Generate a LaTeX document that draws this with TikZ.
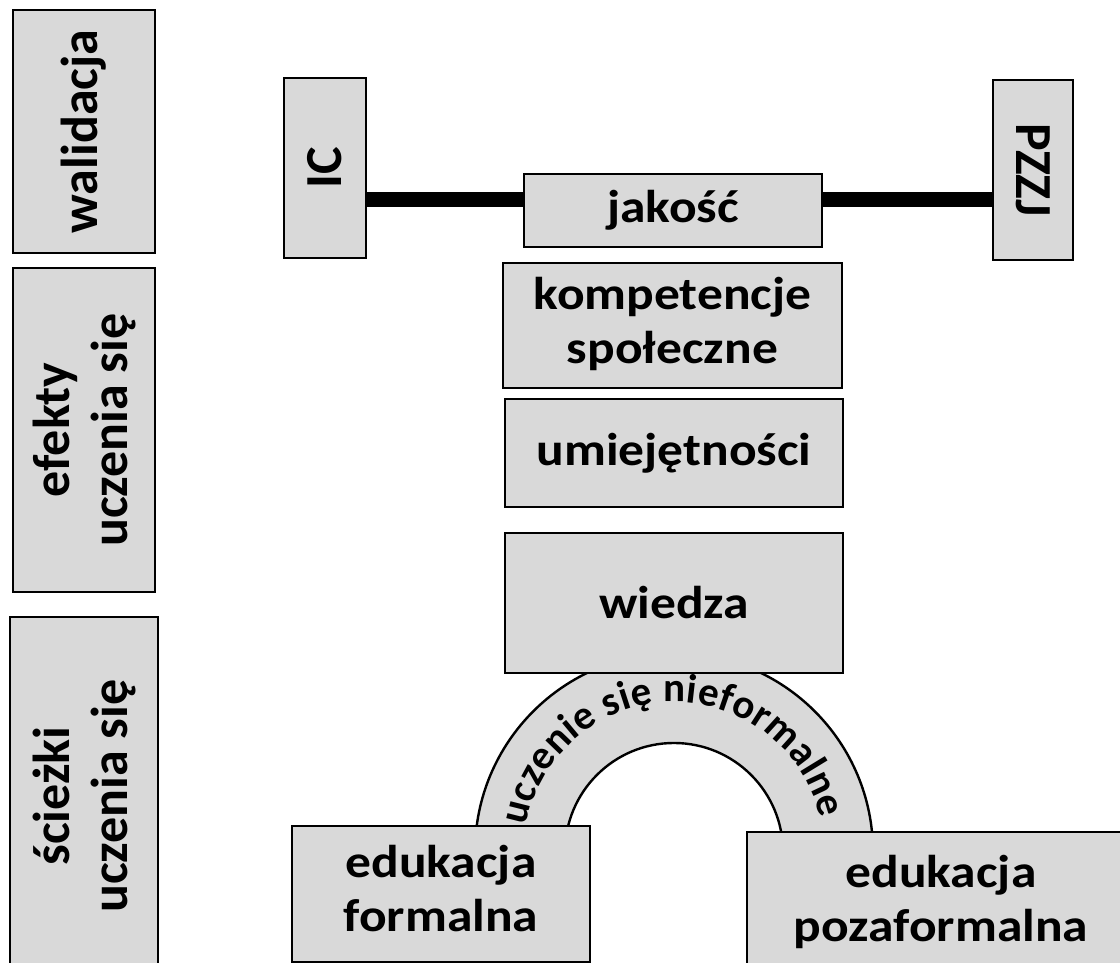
\documentclass[tikz,border=0pt]{standalone}
\usepackage{fontspec}
\setmainfont{Carlito}
\usepackage{graphicx}
\usetikzlibrary{decorations.text}
\definecolor{boxgray}{HTML}{D9D9D9}
\newcommand{\hwide}[1]{\scalebox{1.12}[1]{#1}}
\tikzset{
  box/.style={draw=black, fill=boxgray, line width=2.4pt, inner sep=0pt, align=center,
              font=\bfseries\fontsize{46}{54}\selectfont},
  vbox/.style={box, font=\bfseries\fontsize{52}{58}\selectfont},
  bar/.style={line width=15pt, draw=black},
  archband/.style={draw=black, fill=boxgray, line width=2.4pt},
}
\begin{document}
\begin{tikzpicture}[x=1pt,y=1pt]
\useasboundingbox (0,0) rectangle (1120,963);
\clip (0,0) rectangle (1120,963);
% left column
\node[vbox, rotate=90, minimum width=243pt, minimum height=142pt] (wal) at (84,831.5) {walidacja};
\node[vbox, rotate=90, minimum width=324pt, minimum height=142pt] (efe) at (84,533) {efekty\\uczenia się};
\node[vbox, rotate=90, minimum width=358pt, minimum height=148pt] (sci) at (84,167) {ścieżki\\uczenia się};
% top row
\node[vbox, rotate=90, minimum width=180pt, minimum height=82pt] (IC) at (325,795) {IC};
\node[vbox, rotate=-90, minimum width=180pt, minimum height=80pt] (PZZJ) at (1033,793) {PZZJ};
\coordinate (L) at ([yshift=-32pt]IC.south);
\draw[bar] (L) -- (L -| PZZJ.south);
\node[box, minimum width=298pt, minimum height=73pt] (jak) at (673,752.5) {\hwide{jakość}};
% centre column
\node[box, minimum width=339pt, minimum height=125pt] (kom) at (672.5,637.5)
  {\hwide{\begin{tabular}{@{}c@{}}kompetencje\\społeczne\end{tabular}}};
\node[box, minimum width=338pt, minimum height=108pt] (umi) at (674,510) {\hwide{umiejętności}};
% arch
\draw[archband] (873,111) arc[start angle=0, end angle=180, radius=199]
  -- (565,111) arc[start angle=180, end angle=0, radius=109] -- cycle;
\path[decorate, decoration={text along path, text align={fit to path},
  text={|\bfseries\fontsize{41}{41}\selectfont|uczenie się nieformalne}}]
  ([shift={(170:150)}]674,111) arc[start angle=170, end angle=13, radius=150];
\node[box, minimum width=338pt, minimum height=140pt] (wie) at (674,360) {\hwide{wiedza}};
% bottom
\node[box, minimum width=298pt, minimum height=136pt] (ef) at (441,69)
  {\hwide{\begin{tabular}{@{}c@{}}edukacja\\formalna\end{tabular}}};
\node[box, minimum width=388pt, minimum height=143pt] (ep) at (941,59.5)
  {\hwide{\begin{tabular}{@{}c@{}}edukacja\\pozaformalna\end{tabular}}};
\end{tikzpicture}
\end{document}
